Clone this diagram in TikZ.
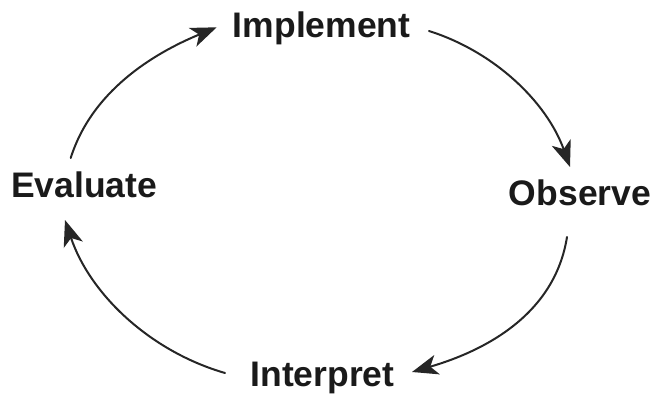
\documentclass[tikz,border=0pt]{standalone}
\usepackage{fontspec}
\setmainfont{Liberation Sans}
\usetikzlibrary{arrows.meta}
\definecolor{ink}{HTML}{1A1A1A}
\definecolor{wire}{HTML}{262626}
\tikzset{
  stage/.style={font=\fontsize{35.5}{41}\selectfont\bfseries, text=ink, inner sep=0pt, anchor=base},
  cyc/.style={draw=wire, line width=2pt, line cap=round,
    -{Stealth[length=26pt, width=20pt, inset=7pt]}},
}
\begin{document}
\begin{tikzpicture}[x=1pt, y=-1pt]
  \useasboundingbox (0,0) rectangle (656,396);
  % the four stages of the cycle
  \node[stage] (impl) at (321.7,37.3) {Implement};
  \node[stage] (obs)  at (580,205.5) {Observe};
  \node[stage] (intp) at (322.5,386.7) {Interpret};
  \node[stage] (eval) at (84.2,197.3) {Evaluate};
  % ends of the connecting arcs
  \coordinate (e1) at (70.7,158);   \coordinate (t1) at (216.7,27.3);
  \coordinate (e2) at (429,31);     \coordinate (t2) at (570,167);
  \coordinate (e3) at (567,237);    \coordinate (t3) at (412,372);
  \coordinate (e4) at (225,373);    \coordinate (t4) at (65,220);
  % near-circular arcs running clockwise round the cycle
  \draw[cyc] (e1) .. controls (91.7,91.5) and (152.3,53.9) .. (t1);
  \draw[cyc] (e2) .. controls (494.7,51.8) and (546.8,102.1) .. (t2);
  \draw[cyc] (e3) .. controls (554.8,313.7) and (486.5,350.3) .. (t3);
  \draw[cyc] (e4) .. controls (149.8,351.2) and (89.9,294.1) .. (t4);
\end{tikzpicture}
\end{document}
